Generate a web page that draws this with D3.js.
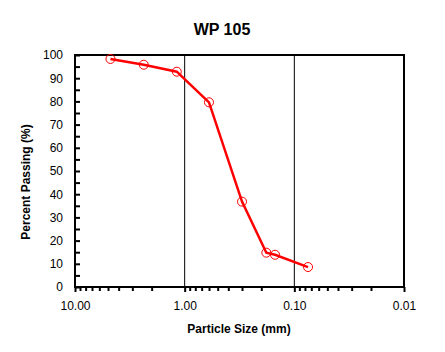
<!DOCTYPE html>
<html>
<head>
<meta charset="utf-8">
<script src="https://cdn.jsdelivr.net/npm/d3@7"></script>
<style>
  body { margin: 0; background: #fff; }
  text { font-family: "Liberation Sans", Arial, sans-serif; }
</style>
</head>
<body>
<div id="container"></div>
<script>
// sieve data
let sizes = [4.75, 2.36, 1.18, 0.6, 0.3, 0.18, 0.15, 0.075];
let passing = [98.3, 95.8, 92.8, 79.6, 36.8, 14.8, 13.9, 8.6];
let xMajor = [10, 1, 0.1, 0.01];
let yTicks = d3.range(0, 101, 5);

let w = 445;
let h = 352;
let plotLeft = 75, plotRight = 404, plotTop = 55, plotBottom = 287;

let viz = d3.select("#container")
  .append("svg")
    .attr("width", w)
    .attr("height", h)
    .style("background-color", "white");

let xScale = d3.scaleLog().domain([10, 0.01]).range([plotLeft, plotRight]);
let yScale = d3.scaleLinear().domain([0, 100]).range([plotBottom, plotTop]);

// minor x ticks 2..9 in each decade
let xMinor = [];
[1, 0.1, 0.01].forEach(function(d){
  for (let k = 2; k <= 9; k++) xMinor.push(+(d * k).toFixed(4));
});

// vertical grid lines
viz.append("g")
  .selectAll("line")
  .data([1, 0.1])
  .enter()
  .append("line")
    .attr("x1", d => xScale(d))
    .attr("x2", d => xScale(d))
    .attr("y1", plotTop)
    .attr("y2", plotBottom)
    .attr("stroke", "black")
    .attr("stroke-width", 1);

// x minor ticks
let xMinorGroup = viz.append("g")
  .attr("transform", "translate(0," + plotBottom + ")")
  .call(d3.axisBottom(xScale).tickValues(xMinor).tickSize(4).tickFormat(""));
xMinorGroup.select(".domain").remove();
xMinorGroup.selectAll("line").attr("stroke-width", 2);

// x major ticks + labels
let xAxisGroup = viz.append("g")
  .attr("transform", "translate(0," + plotBottom + ")")
  .call(d3.axisBottom(xScale).tickValues(xMajor).tickSize(5).tickFormat(d3.format(".2f")));
xAxisGroup.select(".domain").remove();
xAxisGroup.selectAll("line").attr("stroke-width", 2);
xAxisGroup.selectAll("text")
  .attr("y", 23)
  .attr("dy", 0)
  .style("font-size", "12px")
  .attr("fill", "black");

// y ticks, inward
let yAxisGroup = viz.append("g")
  .attr("transform", "translate(" + plotLeft + ",0)")
  .call(d3.axisLeft(yScale).tickValues(yTicks).tickSize(-5).tickPadding(12)
    .tickFormat(d => d % 10 == 0 ? d : ""));
yAxisGroup.select(".domain").remove();
yAxisGroup.selectAll("line").attr("stroke-width", 2);
yAxisGroup.selectAll("text")
  .style("font-size", "12px")
  .attr("fill", "black");

// frame
viz.append("rect")
  .attr("x", plotLeft)
  .attr("y", plotTop)
  .attr("width", plotRight - plotLeft)
  .attr("height", plotBottom - plotTop)
  .attr("fill", "none")
  .attr("stroke", "black")
  .attr("stroke-width", 2);

// data line
let points = sizes.map((s, i) => [s, passing[i]]);
let line = d3.line()
  .x(d => xScale(d[0]))
  .y(d => yScale(d[1]));

viz.append("path")
  .datum(points)
  .attr("d", line)
  .attr("fill", "none")
  .attr("stroke", "#ff0000")
  .attr("stroke-width", 2.5);

viz.append("g")
  .selectAll("circle")
  .data(points)
  .enter()
  .append("circle")
    .attr("cx", d => xScale(d[0]))
    .attr("cy", d => yScale(d[1]))
    .attr("r", 4.5)
    .attr("fill", "none")
    .attr("stroke", "#ff0000")
    .attr("stroke-width", 1);

// titles
viz.append("text")
  .text("WP 105")
  .attr("x", 222)
  .attr("y", 35)
  .attr("text-anchor", "middle")
  .style("font-size", "16px")
  .style("font-weight", "bold");

viz.append("text")
  .text("Particle Size (mm)")
  .attr("x", 239)
  .attr("y", 333)
  .attr("text-anchor", "middle")
  .style("font-size", "12px")
  .style("font-weight", "bold");

viz.append("text")
  .text("Percent Passing (%)")
  .attr("text-anchor", "middle")
  .attr("transform", "translate(30,182),rotate(-90)")
  .style("font-size", "12px")
  .style("font-weight", "bold");
</script>
</body>
</html>
